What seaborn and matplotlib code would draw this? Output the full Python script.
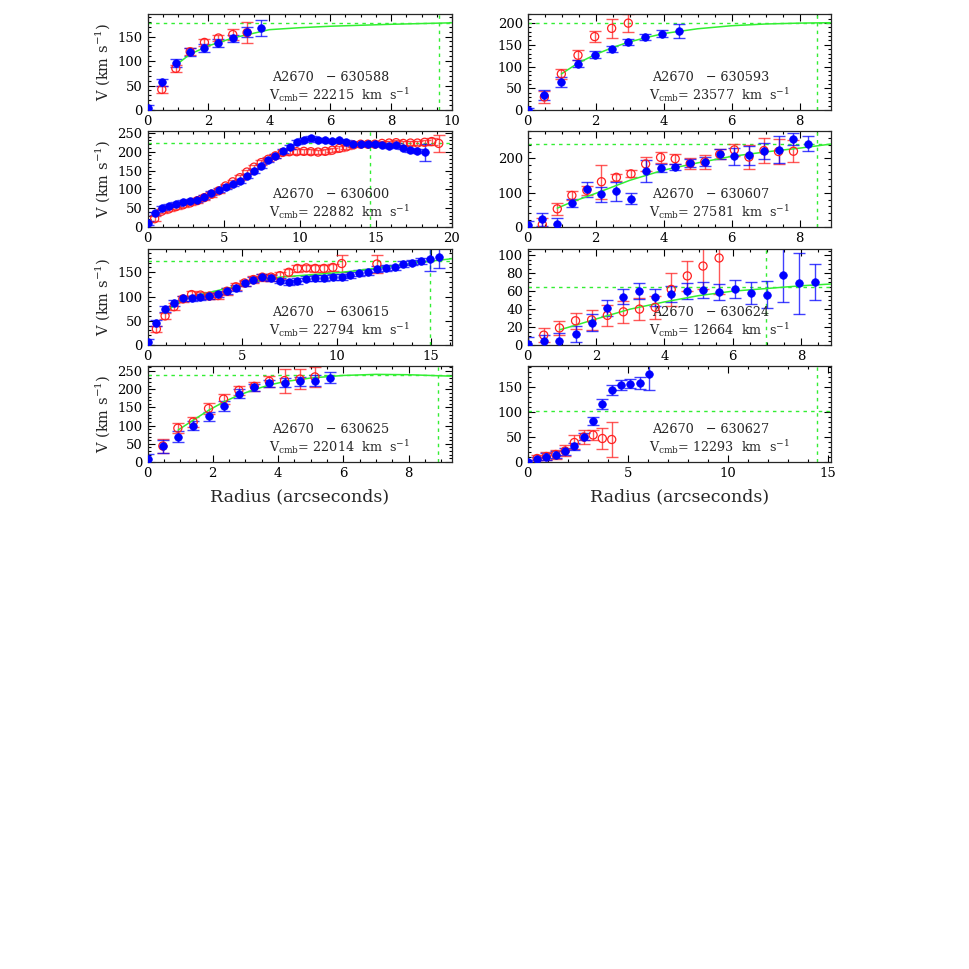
import matplotlib
matplotlib.use("Agg")
import matplotlib.pyplot as plt
from matplotlib.ticker import AutoMinorLocator, MultipleLocator
import seaborn as sns

# radii of the sampled slit positions (arcsec)
RADII = [0.00, 0.47, 0.93, 1.40, 1.87, 2.33, 2.80, 3.27, 3.73, 4.20, 4.67, 5.13,
         5.60, 6.07, 6.53, 7.00, 7.47, 7.93, 8.40, 8.87, 9.33, 9.80, 10.27, 10.73,
         11.20, 11.67, 12.13, 12.60, 13.07, 13.53, 14.00, 14.47, 14.93, 15.40,
         15.87, 16.33, 16.80, 17.27, 17.73, 18.20, 18.67, 19.13]
# two galaxies were sampled with a different pixel scale
RADII_593 = [0.00, 0.49, 0.99, 1.48, 1.97, 2.47, 2.96, 3.45, 3.95, 4.44]
RADII_607 = [0.00, 0.43, 0.87, 1.30, 1.74, 2.17, 2.61, 3.04, 3.47, 3.91, 4.34, 4.78,
             5.21, 5.65, 6.08, 6.51, 6.95, 7.38, 7.82, 8.25]

# ---- A2670 - 630588
g588_blue_v = [5, 57, 96, 118, 127, 137, 146, 159, 168]
g588_blue_e = [5, 7, 8, 8, 8, 8, 8, 10, 16]
g588_red_v = [42, 85, 119, 138, 147, 154, 158]
g588_red_e = [8, 7, 7, 7, 7, 12, 22]
g588_fit_x = [0.94, 1.4, 2.0, 2.8, 4.0, 5.0, 6.0, 8.0, 10.0]
g588_fit_v = [92, 114, 131, 147, 164, 168, 171, 175, 178]

# ---- A2670 - 630593
g593_blue_v = [1, 35, 65, 107, 127, 141, 156, 168, 176, 181]
g593_blue_e = [4, 12, 12, 9, 8, 7, 7, 8, 8, 16]
g593_red_v = [30, 83, 126, 169, 188, 200]
g593_red_e = [14, 11, 12, 12, 22, 20]
g593_fit_x = [0.99, 1.48, 1.97, 2.47, 2.96, 3.45, 4.0, 5.0, 6.0, 7.0, 8.0, 8.93]
g593_fit_v = [83, 108, 127, 143, 156, 166, 176, 187, 194, 198, 200, 201]

# ---- A2670 - 630600
g600_blue_v = [11, 36, 51, 57, 62, 66, 69, 72, 79, 90, 98, 106, 113, 122, 135, 149,
               162, 177, 189, 201, 213, 225, 232, 236, 232, 230, 228, 230, 227, 221,
               220, 221, 220, 219, 216, 218, 211, 205, 201, 198]
g600_blue_e = [5] * 39 + [22]
g600_red_v = [22, 42, 48, 54, 59, 64, 70, 78, 87, 96, 109, 120, 131, 146, 159, 171,
              180, 189, 198, 200, 200, 201, 200, 199, 201, 204, 209, 213, 218, 220,
              220, 220, 222, 223, 224, 222, 223, 223, 225, 227, 222]
g600_red_e = [6] * 39 + [10, 22]

# ---- A2670 - 630607
g607_blue_v = [7, 22, 10, 69, 110, 95, 104, 83, 163, 172, 175, 187, 191, 213, 206,
               209, 221, 226, 256, 243]
g607_blue_e = [10, 18, 15, 12, 22, 22, 28, 17, 32, 13, 10, 12, 14, 15, 24, 28, 24,
               40, 17, 22]
g607_red_v = [7, 53, 92, 107, 132, 145, 155, 184, 203, 199, 185, 190, 212, 225, 204,
              223, 220, 221]
g607_red_e = [20, 17, 13, 14, 50, 10, 10, 20, 16, 15, 15, 20, 15, 18, 35, 37, 37, 32]
g607_fit_x = [0.87, 1.3, 2.0, 3.0, 4.0, 5.0, 6.0, 7.0, 8.0, 8.93]
g607_fit_v = [55, 73, 98, 136, 166, 187, 206, 219, 230, 242]

# ---- A2670 - 630615
g615_blue_v = [7, 45, 74, 87, 96, 96, 99, 101, 106, 111, 118, 127, 135, 140, 139,
               133, 129, 132, 137, 138, 138, 140, 141, 144, 148, 151, 156, 158, 160,
               167, 170, 174, 178, 181]
g615_blue_e = [6] * 32 + [25, 22]
g615_red_v = [33, 60, 79, 95, 104, 103, 101, 102, 111, 120, 128, 135, 140, 140, 143,
              150, 158, 159, 158, 158, 160, 168]
g615_red_e = [7] * 21 + [18]
g615_red_far_x = [12.13]
g615_red_far_v = [167]
g615_red_far_e = [18]
g615_fit_x = [0.94, 1.4, 2.0, 3.0, 4.0, 5.0, 6.0, 7.0, 8.0, 9.0, 10.0, 11.0, 12.0,
              13.0, 14.0, 15.0, 16.1]
g615_fit_v = [65, 82, 96, 106, 115, 124, 134, 140, 143, 146, 149, 153, 158, 163,
              168, 173, 178]

# ---- A2670 - 630624
g624_blue_v = [1, 4, 5, 12, 25, 41, 54, 60, 53, 57, 60, 61, 59, 62, 58, 56, 78, 69, 70]
g624_blue_e = [8, 7, 8, 9, 9, 9, 8, 9, 9, 9, 9, 9, 9, 10, 12, 15, 30, 34, 20]
g624_red_v = [11, 19, 27, 28, 33, 37, 40, 42, 62, 77, 88, 97]
g624_red_e = [8, 8, 9, 11, 12, 12, 12, 13, 18, 17, 26, 40]
g624_fit_x = [0.94, 1.4, 2.0, 3.0, 4.0, 5.0, 6.0, 7.0, 8.0, 8.88]
g624_fit_v = [17, 22, 29, 40, 48, 55, 60, 63, 66, 68]

# ---- A2670 - 630625
g625_blue_v = [8, 43, 70, 100, 126, 155, 188, 205, 216, 218, 222, 224, 232]
g625_blue_e = [15, 18, 15, 13, 12, 14, 12, 10, 10, 12, 12, 14, 15]
g625_red_v = [44, 93, 110, 147, 173, 197, 208, 222, 224, 228, 234]
g625_red_e = [20, 14, 15, 14, 14, 12, 12, 15, 33, 28, 27]
g625_fit_x = [0.94, 1.4, 1.87, 2.33, 2.8, 3.27, 3.74, 4.2, 5.0, 6.0, 7.0, 8.0, 9.33]
g625_fit_v = [88, 115, 142, 165, 184, 199, 212, 221, 231, 238, 241, 240, 236]

# ---- A2670 - 630627
g627_blue_v = [0, 5, 10, 14, 21, 31, 50, 81, 115, 143, 153, 156, 158, 175]
g627_blue_e = [3, 5, 7, 7, 7, 7, 7, 8, 10, 10, 10, 9, 12, 32]
g627_red_v = [7, 11, 15, 22, 39, 50, 54, 47, 45]
g627_red_e = [7, 8, 9, 11, 14, 14, 10, 21, 35]

galaxy_ids = ["630588", "630593", "630600", "630607", "630615", "630624", "630625", "630627"]
v_cmb = [22215, 23577, 22882, 27581, 22794, 12664, 22014, 12293]
x_limits = [10.0, 8.93, 20.0, 8.93, 16.1, 8.88, 9.33, 15.17]
y_limits = [196, 221, 255, 280, 198, 107, 264, 192]
x_major = [2, 2, 5, 2, 5, 2, 2, 5]
y_major = [50, 50, 50, 100, 50, 20, 50, 50]
v_flat = [178, 200, 222, 242, 173, 65, 240, 102]
r_opt = [9.58, 8.51, 14.6, 8.51, 14.95, 6.98, 8.89, 14.46]

panels = [
    (RADII, g588_blue_v, g588_blue_e, g588_red_v, g588_red_e, g588_fit_x, g588_fit_v),
    (RADII_593, g593_blue_v, g593_blue_e, g593_red_v, g593_red_e, g593_fit_x, g593_fit_v),
    (RADII, g600_blue_v, g600_blue_e, g600_red_v, g600_red_e, None, None),
    (RADII_607, g607_blue_v, g607_blue_e, g607_red_v, g607_red_e, g607_fit_x, g607_fit_v),
    (RADII, g615_blue_v, g615_blue_e, g615_red_v, g615_red_e, g615_fit_x, g615_fit_v),
    (RADII, g624_blue_v, g624_blue_e, g624_red_v, g624_red_e, g624_fit_x, g624_fit_v),
    (RADII, g625_blue_v, g625_blue_e, g625_red_v, g625_red_e, g625_fit_x, g625_fit_v),
    (RADII, g627_blue_v, g627_blue_e, g627_red_v, g627_red_e, None, None),
]

sns.set_style("ticks")
plt.rcParams['font.family'] = ['DejaVu Serif']
plt.rcParams['mathtext.fontset'] = 'dejavuserif'

W = 969.0
fig = plt.figure(figsize=(9.69, 9.69), dpi=100)

col_left = [147.5, 527.7]
col_width = [304.5, 303.5]
row_top = [14, 131, 249, 366]
row_height = 96

BLUE = "#0000ff"
RED = "#ff2020"
GREEN = "#33ee33"


def draw_errors(ax, x, v, e, color):
    ax.errorbar(x, v, yerr=e, fmt="none", ecolor=color, elinewidth=1.0,
                capsize=4, capthick=1.0, alpha=0.75, zorder=2)


for k, (rad, bv, be, rv, re_, fx, fv) in enumerate(panels):
    row, col = k // 2, k % 2
    left = col_left[col] / W
    bottom = 1 - (row_top[row] + row_height) / W
    ax = fig.add_axes([left, bottom, col_width[col] / W, row_height / W])

    # blue side starts at the centre, red side at the first offset
    bx = rad[:len(bv)]
    rx = rad[1:1 + len(rv)]

    # reference lines
    ax.axhline(v_flat[k], color=GREEN, ls=(0, (2.5, 3)), lw=1.0, zorder=1)
    ax.axvline(r_opt[k], color=GREEN, ls=(0, (2.5, 3)), lw=1.0, zorder=1)

    if fx is not None:
        sns.lineplot(x=fx, y=fv, ax=ax, color=GREEN, lw=1.1, zorder=3)

    draw_errors(ax, rx, rv, re_, RED)
    sns.scatterplot(x=rx, y=rv, ax=ax, marker="o", s=34, facecolor="none",
                    edgecolor=RED, linewidth=0.9, zorder=4)
    if k == 4:
        draw_errors(ax, g615_red_far_x, g615_red_far_v, g615_red_far_e, RED)
        sns.scatterplot(x=g615_red_far_x, y=g615_red_far_v, ax=ax, marker="o", s=34,
                        facecolor="none", edgecolor=RED, linewidth=0.9, zorder=4)

    draw_errors(ax, bx, bv, be, BLUE)
    sns.scatterplot(x=bx, y=bv, ax=ax, marker="o", s=30, color=BLUE,
                    edgecolor=BLUE, linewidth=0.5, zorder=5)

    ax.set_xlim(0, x_limits[k])
    ax.set_ylim(0, y_limits[k])
    ax.xaxis.set_major_locator(MultipleLocator(x_major[k]))
    ax.yaxis.set_major_locator(MultipleLocator(y_major[k]))
    ax.xaxis.set_minor_locator(AutoMinorLocator(4 if x_major[k] == 2 else 5))
    ax.yaxis.set_minor_locator(AutoMinorLocator(5 if y_major[k] != 20 else 4))
    ax.tick_params(which="both", direction="in", top=True, right=True,
                   labelsize=9.5, width=0.8, colors="black")
    ax.tick_params(which="major", length=5)
    ax.tick_params(which="minor", length=2.5)
    for sp in ax.spines.values():
        sp.set_linewidth(0.9)
        sp.set_visible(True)
    ax.set_xlabel("")
    ax.set_ylabel("")

    if col == 0:
        ax.set_ylabel(r"V (km s$^{-1}$)", fontsize=10.5)
        ax.yaxis.set_label_coords(-0.115, 0.5)

    ax.text(0.41, 0.335, "A2670   \u2212 " + galaxy_ids[k], transform=ax.transAxes,
            fontsize=9.2, va="center", ha="left")
    ax.text(0.40, 0.16, r"V$_{\rm cmb}$= %d  km  s$^{-1}$" % v_cmb[k],
            transform=ax.transAxes, fontsize=9.2, va="center", ha="left")

for col in range(2):
    xc = (col_left[col] + col_width[col] / 2) / W
    fig.text(xc, 1 - 497 / W, "Radius (arcseconds)", ha="center", va="center",
             fontsize=12.5)

fig.savefig("out.png", dpi=100)
